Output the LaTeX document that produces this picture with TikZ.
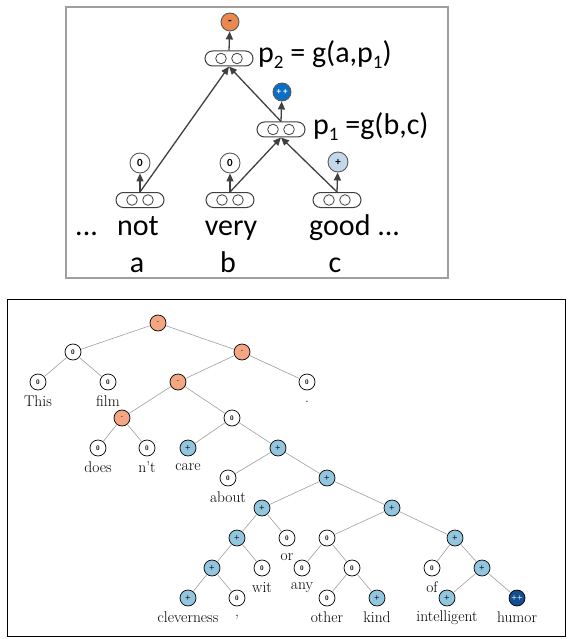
\documentclass[tikz,border=0pt]{standalone}
\usepackage{fontspec}
\newfontfamily\calib{Carlito}
\usetikzlibrary{arrows.meta}
\definecolor{torange}{RGB}{233,137,78}
\definecolor{tblue}{RGB}{10,110,195}
\definecolor{tlight}{RGB}{197,215,235}
\definecolor{bneg}{RGB}{244,165,130}
\definecolor{bpos}{RGB}{146,197,222}
\definecolor{bvpos}{RGB}{18,78,145}
\definecolor{arrowgray}{RGB}{64,64,64}
\newcommand{\mysub}[1]{\raisebox{-6pt}{\fontsize{19}{19}\selectfont #1}}
\begin{document}
\begin{tikzpicture}[x=1pt,y=-1pt,
  pill/.style={draw=arrowgray, line width=1pt, rounded corners=7.5pt, minimum width=48pt, minimum height=15pt, inner sep=0pt},
  innerc/.style={draw=arrowgray, line width=0.8pt},
  sent/.style={circle, draw=black!65, line width=0.9pt, minimum size=20pt, inner sep=0pt, font=\calib\bfseries\fontsize{11}{11}\selectfont},
  arr/.style={draw=arrowgray, line width=1.3pt, -{Triangle[length=8pt,width=7pt]}},
  word/.style={font=\calib\fontsize{30}{30}\selectfont, inner sep=0pt, anchor=base},
  tn/.style={circle, draw=black, line width=0.7pt, minimum size=16pt, inner sep=0pt, fill=white, font=\sffamily\bfseries\fontsize{6.5}{6.5}\selectfont},
  negnode/.style={tn, fill=bneg},
  posnode/.style={tn, fill=bpos},
  vposnode/.style={tn, fill=bvpos, text=white},
  tedge/.style={draw=gray!75, line width=0.6pt},
  wl/.style={font=\fontsize{15.5}{15.5}\selectfont, inner sep=0pt}
]
\useasboundingbox (0,0) rectangle (567,639);
% frames
\draw[gray!75, line width=1.2pt] (66,7) rectangle (448,278);
\draw[black, line width=1pt] (7.5,299) rectangle (565.5,636);

% ---------- top panel ----------
\node[pill] (p2) at (229,58.5) {};
\node[pill] (p1) at (281,129.5) {};
\node[pill] (na) at (140,200) {};
\node[pill] (nb) at (230,200) {};
\node[pill] (nc) at (337,200) {};
\foreach \n in {p2,p1,na,nb,nc}{
  \draw[innerc] ([xshift=-8pt]\n.center) circle[radius=5.3pt];
  \draw[innerc] ([xshift=8pt]\n.center) circle[radius=5.3pt];
}
\node[sent, fill=torange, minimum size=18pt, font=\calib\bfseries\fontsize{12}{12}\selectfont] (s2) at (230,22) {-};
\node[sent, fill=tblue, text=white, minimum size=18pt, font=\calib\bfseries\fontsize{9}{9}\selectfont] (s1) at (282,92) {+ +};
\node[sent] (sa) at (140,163) {0};
\node[sent] (sb) at (230,163) {0};
\node[sent, fill=tlight] (sc) at (338,162) {+};

\draw[arr] (na.north) -- (sa);
\draw[arr] (na.north) -- (p2.south);
\draw[arr] (nb.north) -- (sb);
\draw[arr] (nb.north) -- (p1.south);
\draw[arr] (nc.north) -- (sc);
\draw[arr] (nc.north) -- (p1.south);
\draw[arr] (p1.north) -- (p2.south);
\draw[arr] (p1.north) -- (s1);
\draw[arr] (p2.north) -- (s2);

\node[word, anchor=base west] (lp2) at (258,63) {p\mysub{2} = g(a,p\mysub{1})};
\node[word, anchor=base west] (lp1) at (313,135) {p\mysub{1} =g(b,c)};
\node[word, anchor=base west] (dots) at (75,235) {...};
\node[word] (wnot) at (138,235) {not};
\node[word] (wvery) at (231,235) {very};
\node[word, anchor=base west] (wgood) at (309,235) {good ...};
\node[word] (la) at (137,272) {a};
\node[word] (lb) at (228,272) {b};
\node[word] (lc) at (335,272) {c};

% ---------- bottom panel ----------
\node[negnode] (r) at (158,323) {-};
\node[tn] (a) at (73,352) {0};
\node[negnode] (b) at (242,352) {-};
\node[tn] (wThis) at (38,382) {0};
\node[tn] (wfilm) at (108,382) {0};
\node[negnode] (c) at (178,382) {-};
\node[tn] (wdot) at (307,382) {0};
\node[negnode] (d) at (122,418) {-};
\node[tn] (e) at (232,418) {0};
\node[tn] (wdoes) at (98,448) {0};
\node[tn] (wnt) at (147,448) {0};
\node[posnode] (wcare) at (188,448) {+};
\node[posnode] (f) at (278,448) {+};
\node[tn] (wabout) at (228,478) {0};
\node[posnode] (g) at (327,478) {+};
\node[posnode] (h) at (262,508) {+};
\node[posnode] (i) at (392,508) {+};
\node[posnode] (j) at (237,538) {+};
\node[tn] (wor) at (287,538) {0};
\node[tn] (k) at (327,538) {0};
\node[posnode] (l) at (455,538) {+};
\node[posnode] (m) at (212,568) {+};
\node[tn] (wwit) at (262,568) {0};
\node[tn] (wany) at (302,568) {0};
\node[tn] (n) at (352,568) {0};
\node[tn] (wof) at (432,568) {0};
\node[posnode] (o) at (482,568) {+};
\node[posnode] (wclev) at (188,598) {+};
\node[tn] (wcomma) at (237,598) {0};
\node[tn] (wother) at (327,598) {0};
\node[posnode] (wkind) at (377,598) {+};
\node[posnode] (wint) at (447,598) {+};
\node[vposnode] (whum) at (517,598) {+{}+};

\foreach \p/\q in {r/a, r/b, a/wThis, a/wfilm, b/c, b/wdot, c/d, c/e, d/wdoes, d/wnt,
  e/wcare, e/f, f/wabout, f/g, g/h, g/i, h/j, h/wor, j/m, j/wwit, m/wclev, m/wcomma,
  i/k, i/l, k/wany, k/n, n/wother, n/wkind, l/wof, l/o, o/wint, o/whum}
  \draw[tedge] (\p) -- (\q);

\foreach \nd/\txt in {wThis/This, wfilm/film, wdot/., wdoes/does, wnt/n't, wcare/care,
  wabout/about, wor/or, wwit/wit, wany/any, wof/of, wclev/cleverness, wcomma/{,},
  wother/other, wkind/kind, wint/intelligent, whum/humor}
  \node[wl] (\nd-w) at ([yshift=-19.5pt]\nd.center) {\txt};
\end{tikzpicture}
\end{document}
